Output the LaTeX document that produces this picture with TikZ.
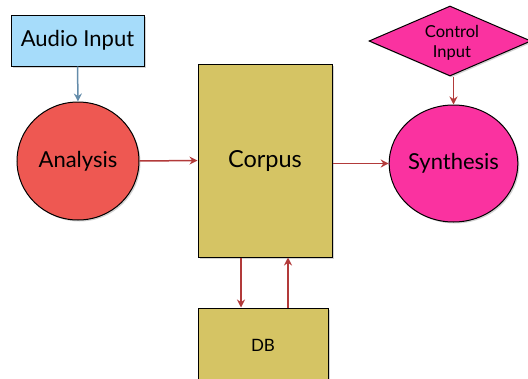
\documentclass[tikz,border=0pt]{standalone}
\usepackage{fontspec}
\setmainfont{Lato}
\usetikzlibrary{shapes.geometric,arrows.meta,shadows}
\definecolor{audioblue}{RGB}{166,220,250}
\definecolor{anared}{RGB}{238,88,82}
\definecolor{corpusyel}{RGB}{213,196,100}
\definecolor{synpink}{RGB}{250,50,160}
\definecolor{arrred}{RGB}{178,58,58}
\definecolor{arrblue}{RGB}{100,140,170}
\tikzset{
  blk/.style={draw=black, line width=1pt, inner sep=0pt, drop shadow={shadow xshift=1.5pt, shadow yshift=-1.5pt, opacity=0.35}},
  flow/.style={draw=arrred, line width=1.5pt, -{Stealth[length=8pt,width=8pt]}},
  big/.style={font=\fontsize{22}{24}\selectfont},
}
\begin{document}
\begin{tikzpicture}[x=1pt,y=-1pt]
\useasboundingbox (0,0) rectangle (528,378);
\node[blk, fill=audioblue, rectangle, minimum width=133pt, minimum height=51pt, big] (audio) at (77.5,40.5) {Audio Input};
\node[blk, fill=anared, ellipse, minimum width=122pt, minimum height=118pt, big] (ana) at (78,161) {Analysis};
\node[blk, fill=corpusyel, rectangle, minimum width=134pt, minimum height=193pt, font=\fontsize{23.5}{25}\selectfont] (corpus) at (265,160.5) {Corpus};
\node[blk, fill=synpink, ellipse, minimum width=123pt, minimum height=117pt, big] (syn) at (453.5,163.5) {Synthesis};
\node[blk, fill=synpink, diamond, aspect=2.3, minimum width=162pt, minimum height=70pt] (ctrl) at (450,41) {};
\node[font=\fontsize{16.5}{20}\selectfont, align=center, inner sep=0pt] (ctrll) at (452,43) {Control\\Input};
\node[blk, fill=corpusyel, rectangle, minimum width=130pt, minimum height=90pt] (db) at (263,353) {};
\node[font=\fontsize{17}{18}\selectfont] (dbl) at (263,345) {DB};
\draw[draw=arrblue, line width=1.5pt, -{Stealth[length=8pt,width=8pt]}] (audio.south) -- (ana.north);
\draw[flow] (ana.east) -- (corpus.west);
\draw[flow] (corpus.east |- syn.west) -- (syn.west);
\draw[flow] (ctrl.south -| syn.north) -- (syn.north);
\coordinate (d1) at (241,257);
\coordinate (u1) at (288,308);
\draw[flow] (corpus.south -| d1) -- (db.north -| d1);
\draw[flow] (db.north -| u1) -- (corpus.south -| u1);
\end{tikzpicture}
\end{document}
